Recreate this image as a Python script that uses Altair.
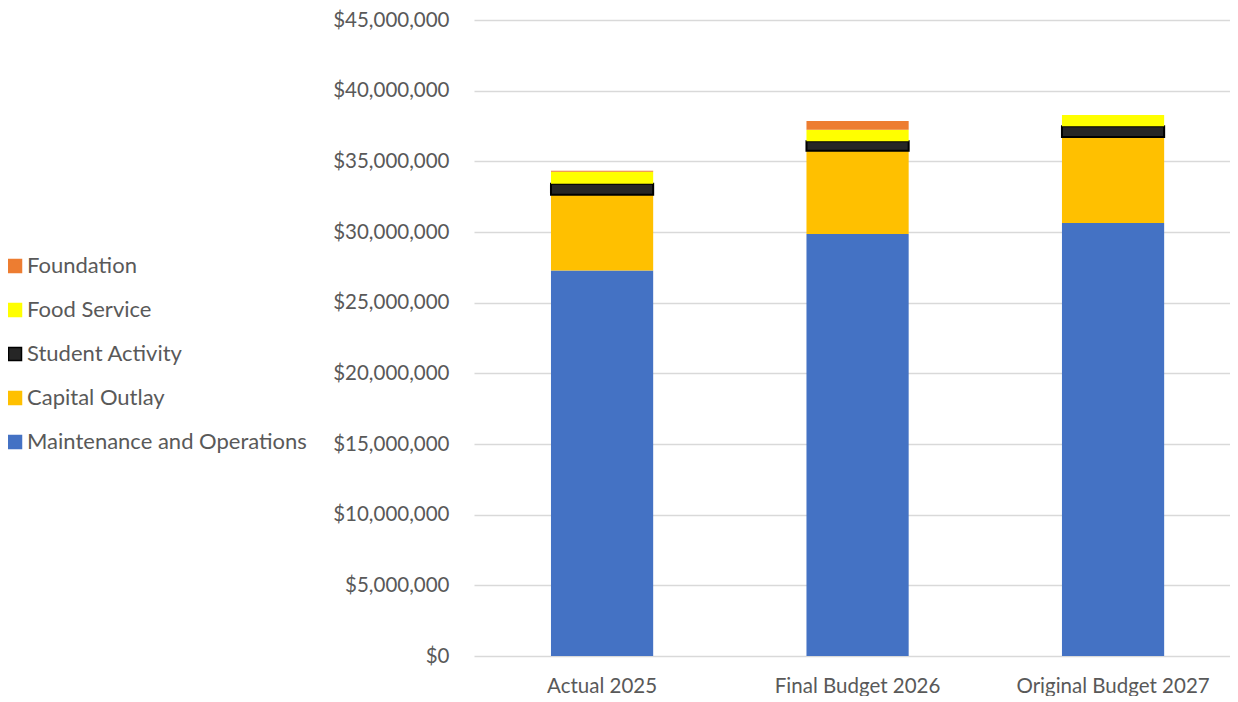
import altair as alt
import pandas as pd

categories = ["Actual 2025", "Final Budget 2026", "Original Budget 2027"]
series = ["Maintenance and Operations", "Capital Outlay", "Student Activity", "Food Service", "Foundation"]
maint_ops = [27270000, 29860000, 30640000]
capital_outlay = [5370000, 5880000, 6090000]
student_activity = [770000, 680000, 750000]
food_service = [850000, 810000, 790000]
foundation = [70000, 630000, 0]

legend_order = ["Foundation", "Food Service", "Student Activity", "Capital Outlay", "Maintenance and Operations"]
colors = {"Foundation": "#ED7D31", "Food Service": "#FFFF00", "Student Activity": "#262626",
          "Capital Outlay": "#FFC000", "Maintenance and Operations": "#4472C4"}
strokes = {"Foundation": "#ED7D31", "Food Service": "#FFFF00", "Student Activity": "#000000",
           "Capital Outlay": "#FFC000", "Maintenance and Operations": "#4472C4"}

values = [maint_ops, capital_outlay, student_activity, food_service, foundation]
rows = []
for si, (s, vals) in enumerate(zip(series, values)):
    for c, v in zip(categories, vals):
        rows.append({"category": c, "series": s, "value": v, "order": si})
df = pd.DataFrame(rows)

font = "Lato"
label_color = "#595959"
fs = 20.5

chart = alt.Chart(df).mark_bar().encode(
    x=alt.X("category:N", sort=categories, title=None,
            scale=alt.Scale(paddingInner=0.6, paddingOuter=0.2795, align=0.539),
            axis=alt.Axis(labelAngle=0, ticks=False, domain=False, labelPadding=20,
                          labelLimit=400,
                          labelFontSize=fs, labelColor=label_color, labelFont=font)),
    y=alt.Y("value:Q", stack="zero", title=None,
            scale=alt.Scale(domain=[0, 45000000], nice=False),
            axis=alt.Axis(values=list(range(0, 45000001, 5000000)), format="$,.0f",
                          ticks=False, domain=False, labelPadding=25,
                          labelFontSize=fs, labelColor=label_color, labelFont=font,
                          gridColor="#D9D9D9", gridWidth=1.5)),
    color=alt.Color("series:N", title=None,
                    scale=alt.Scale(domain=legend_order, range=[colors[s] for s in legend_order]),
                    legend=alt.Legend(orient="none", legendX=-470, legendY=235,
                                      symbolType="square", symbolSize=169,
                                      symbolStrokeWidth=1.5, labelFontSize=22,
                                      labelFont=font, labelColor=label_color,
                                      labelLimit=600,
                                      rowPadding=22, labelOffset=1)),
    stroke=alt.Stroke("series:N",
                      scale=alt.Scale(domain=legend_order, range=[strokes[s] for s in legend_order]),
                      legend=None),
    strokeWidth=alt.condition("datum.series == 'Student Activity'", alt.value(2), alt.value(0)),
    order=alt.Order("order:Q", sort="ascending"),
).properties(
    width=756, height=636,
    padding={"left": 466, "top": 12, "right": 0, "bottom": 40},
    autosize=alt.AutoSizeParams(type="none"),
).configure(background="white").configure_view(stroke=None)

chart.save("out.html", embed_options={"renderer": "svg", "actions": False})
